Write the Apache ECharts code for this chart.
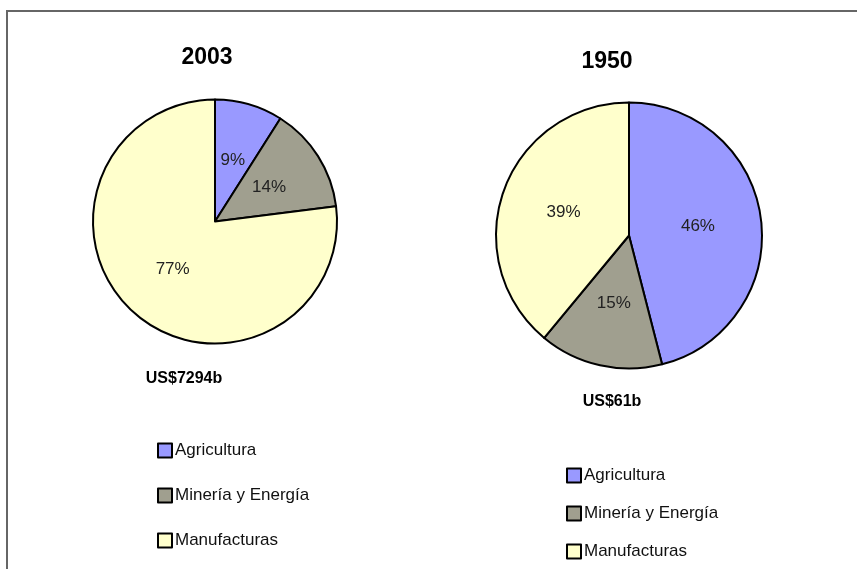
<!DOCTYPE html>
<html>
<head>
<meta charset="utf-8">
<script src="https://cdn.jsdelivr.net/npm/echarts@6/dist/echarts.min.js"></script>
<style>
  html, body { margin: 0; padding: 0; background: #fff; }
  #chart { width: 857px; height: 569px; }
</style>
</head>
<body>
<div id="chart"></div>
<script>
// datos
const categories = ['Agricultura', 'Minería y Energía', 'Manufacturas'];
const colors = ['#9999FF', '#A09F8F', '#FFFFCC'];
const values2003 = [9, 14, 77];
const values1950 = [46, 15, 39];
const years = ['2003', '1950'];
const totals = ['US$7294b', 'US$61b'];

(() => {
    const font = 'Liberation Sans, Arial, sans-serif';
    const chart = echarts.init(document.getElementById('chart'));

    let toData = function (vals) {
        return vals.map((v, i) => ({
            name: categories[i],
            value: v,
            itemStyle: { color: colors[i] }
        }));
    };

    let pie = function (vals, center, radius) {
        return {
            type: 'pie',
            center: center,
            radius: radius,
            startAngle: 90,
            clockwise: true,
            animation: false,
            data: toData(vals),
            itemStyle: { borderColor: '#000', borderWidth: 2 },
            label: {
                show: true,
                position: 'inside',
                formatter: '{c}%',
                color: '#222',
                fontFamily: font,
                fontSize: 17
            },
            labelLine: { show: false },
            emphasis: { disabled: true }
        };
    };

    let titleAt = function (text, x, y, size) {
        return {
            text: text,
            left: x,
            top: y,
            padding: 0,
            textAlign: 'center',
            textVerticalAlign: 'top',
            textStyle: { fontFamily: font, fontWeight: 'bold', fontSize: size, color: '#000' }
        };
    };

    let legendAt = function (x, y, gap) {
        return {
            orient: 'vertical',
            left: x,
            top: y,
            padding: 0,
            itemGap: gap,
            itemWidth: 14,
            itemHeight: 14,
            icon: 'rect',
            data: categories,
            selectedMode: false,
            itemStyle: { borderColor: '#000', borderWidth: 2 },
            textStyle: { fontFamily: font, fontSize: 17, color: '#111', padding: [0, 0, 0, -2] }
        };
    };

    chart.setOption({
        backgroundColor: '#fff',
        animation: false,
        graphic: [{
            type: 'rect',
            shape: { x: 7, y: 11, width: 1000, height: 1000 },
            style: { fill: 'none', stroke: '#666', lineWidth: 2 },
            silent: true
        }],
        title: [
            titleAt(years[0], 207, 46, 23),
            titleAt(years[1], 607, 50, 23),
            titleAt(totals[0], 184, 371, 16),
            titleAt(totals[1], 612, 394, 16)
        ],
        legend: [
            legendAt(157, 442, 28),
            legendAt(566, 467, 21)
        ],
        series: [
            pie(values2003, [215, 221.5], 122),
            pie(values1950, [629, 235.5], 133)
        ]
    });
})();
</script>
</body>
</html>
